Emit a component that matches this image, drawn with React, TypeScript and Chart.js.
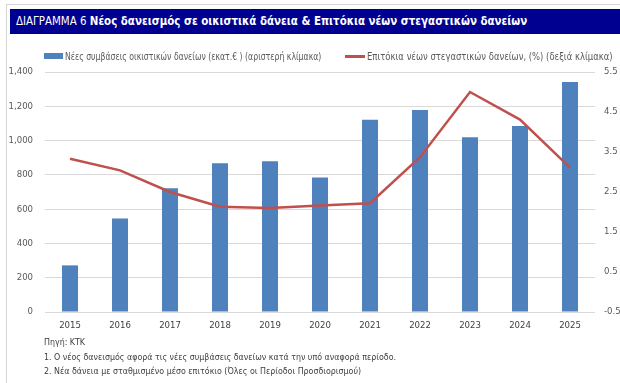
import React, { useEffect, useLayoutEffect, useRef } from "react";
import { Chart, registerables } from "chart.js";

Chart.register(...registerables);

const years = ["2015", "2016", "2017", "2018", "2019", "2020", "2021", "2022", "2023", "2024", "2025"];
const newLoans = [272, 545, 722, 867, 879, 784, 1122, 1178, 1019, 1085, 1342];
const rates = [3.33, 3.04, 2.5, 2.13, 2.1, 2.16, 2.22, 3.37, 5.0, 4.31, 3.11];
const leftTicks = [0, 200, 400, 600, 800, 1000, 1200, 1400];
const rightTicks = [-0.5, 0.5, 1.5, 2.5, 3.5, 4.5, 5.5];

const titlePrefix = "ΔΙΑΓΡΑΜΜΑ 6";
const titleMain = "Νέος δανεισμός σε οικιστικά δάνεια & Επιτόκια νέων στεγαστικών δανείων";
const barLabel = "Νέες συμβάσεις οικιστικών δανείων (εκατ.€ ) (αριστερή κλίμακα)";
const lineLabel = "Επιτόκια νέων στεγαστικών δανείων, (%)  (δεξιά κλίμακα)";
const notes = [
  "Πηγή: ΚΤΚ",
  "1. Ο νέος δανεισμός αφορά τις νέες συμβάσεις δανείων κατά την υπό αναφορά περίοδο.",
  "2. Νέα δάνεια με σταθμισμένο μέσο επιτόκιο (Όλες οι Περίοδοι Προσδιορισμού)",
];

const FONT = "'Liberation Sans Narrow', 'DejaVu Sans Condensed', 'Liberation Sans', sans-serif";
const BLUE = "#4f81bd";
const RED = "#c0504d";

function FitText(props: { width: number; style: React.CSSProperties; children: React.ReactNode }) {
  const ref = useRef<HTMLDivElement | null>(null);
  useLayoutEffect(() => {
    const el = ref.current;
    if (!el) return;
    el.style.transform = "none";
    const w = el.scrollWidth;
    if (w > 0) el.style.transform = `scaleX(${props.width / w})`;
  }, [props.width]);
  return (
    <div
      ref={ref}
      style={{
        position: "absolute",
        whiteSpace: "nowrap",
        fontFamily: FONT,
        transformOrigin: "0 50%",
        display: "inline-block",
        ...props.style,
      }}
    >
      {props.children}
    </div>
  );
}

export default function App() {
  const ref = useRef<HTMLCanvasElement | null>(null);

  useEffect(() => {
    if (!ref.current) return;
    const chart = new Chart(ref.current, {
      type: "bar",
      data: {
        labels: years,
        datasets: [
          {
            type: "line",
            label: lineLabel,
            data: rates,
            yAxisID: "y1",
            borderColor: RED,
            backgroundColor: RED,
            borderWidth: 2.5,
            pointRadius: 0,
            tension: 0,
            order: 0,
          },
          {
            type: "bar",
            label: barLabel,
            data: newLoans,
            yAxisID: "y",
            backgroundColor: BLUE,
            borderWidth: 0,
            categoryPercentage: 1,
            barPercentage: 0.32,
            order: 1,
          },
        ],
      },
      options: {
        responsive: false,
        animation: false,
        layout: { padding: { top: 72, left: 0, right: 0, bottom: 0 } },
        plugins: { legend: { display: false }, tooltip: { enabled: false }, title: { display: false } },
        scales: {
          x: {
            grid: { display: false, drawTicks: false },
            border: { display: false },
            ticks: { color: "#404040", font: { family: FONT, size: 9.5 }, padding: 8, maxRotation: 0 },
            afterFit: (s: any) => {
              s.height = 71;
            },
          },
          y: {
            position: "left",
            min: 0,
            max: 1400,
            afterBuildTicks: (s: any) => {
              s.ticks = leftTicks.map((v) => ({ value: v }));
            },
            grid: { color: "#d9d9d9", lineWidth: 1, drawTicks: false },
            border: { display: false },
            ticks: {
              color: "#595959",
              font: { family: FONT, size: 9.5 },
              padding: 12,
              callback: (v: any) => Number(v).toLocaleString("en-US"),
            },
            afterFit: (s: any) => {
              s.width = 45;
            },
          },
          y1: {
            position: "right",
            min: -0.5,
            max: 5.5,
            afterBuildTicks: (s: any) => {
              s.ticks = rightTicks.map((v) => ({ value: v }));
            },
            grid: { display: false, drawTicks: false },
            border: { display: false },
            ticks: {
              color: "#595959",
              font: { family: FONT, size: 9.5 },
              padding: 9,
              callback: (v: any) => Number(v).toFixed(1),
            },
            afterFit: (s: any) => {
              s.width = 25;
            },
          },
        },
      },
    });
    return () => chart.destroy();
  }, []);

  return (
    <div style={{ position: "fixed", left: 0, top: 0, width: 620, height: 383, background: "#fff", overflow: "hidden" }}>
      <div
        style={{
          position: "absolute",
          left: 6,
          top: 4,
          width: 620,
          height: 390,
          borderTop: "1px solid #d6d6d6",
          borderLeft: "1px solid #d6d6d6",
        }}
      />
      <div style={{ position: "absolute", left: 10, top: 9, width: 610, height: 25, background: "#000090" }} />
      <FitText width={511} style={{ left: 16, top: 14, fontSize: 11.5, lineHeight: "14px", color: "#fff" }}>
        <span>{titlePrefix} </span>
        <span style={{ fontWeight: "bold" }}>{titleMain}</span>
      </FitText>
      <canvas ref={ref} width={620} height={383} style={{ position: "absolute", left: 0, top: 0, display: "block" }} />
      <div style={{ position: "absolute", left: 44, top: 53, width: 19, height: 6, background: BLUE }} />
      <FitText width={256} style={{ left: 65, top: 49, fontSize: 10.5, lineHeight: "14px", color: "#595959" }}>
        {barLabel}
      </FitText>
      <div style={{ position: "absolute", left: 345, top: 55, width: 20, height: 3, background: RED }} />
      <FitText width={246} style={{ left: 367, top: 49, fontSize: 10.5, lineHeight: "14px", color: "#595959" }}>
        {lineLabel}
      </FitText>
      {notes.map((n, i) => (
        <div
          key={i}
          style={{
            position: "absolute",
            whiteSpace: "nowrap",
            fontFamily: FONT,
            left: 44,
            top: 336 + i * 14.5,
            fontSize: 8.8,
            lineHeight: "12px",
            color: "#404040",
          }}
        >
          {n}
        </div>
      ))}
    </div>
  );
}
